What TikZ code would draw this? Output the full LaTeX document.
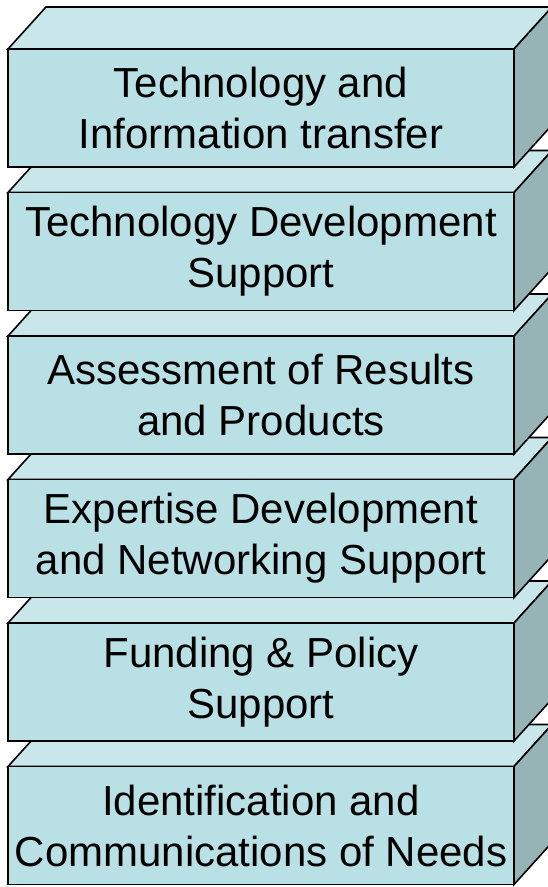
\documentclass[tikz,border=0pt]{standalone}
\usepackage{fontspec}
\setmainfont{Liberation Sans}
\usetikzlibrary{calc}
\definecolor{boxfront}{RGB}{185,224,228}
\definecolor{boxtop}{RGB}{201,231,234}
\definecolor{boxside}{RGB}{150,179,181}
\tikzset{
  face/.style={draw=black, line width=1.6pt, line join=miter},
  boxlabel/.style={align=center, font=\fontsize{42}{51}\selectfont, inner sep=0pt}
}
\begin{document}
\begin{tikzpicture}[x=1pt,y=-1pt]
\useasboundingbox (0,0) rectangle (548,887);
\clip (0,0) rectangle (548,887);

\pgfmathsetmacro{\bdx}{38};
\pgfmathsetmacro{\bdy}{42};
\pgfmathsetmacro{\bw}{506};
\pgfmathsetmacro{\bh}{118};

% stack drawn from the bottom box up
\foreach \i/\txt in {5/{Identification and\\Communications of Needs},
                     4/{Funding \& Policy\\Support},
                     3/{Expertise Development\\and Networking Support},
                     2/{Assessment of Results\\and Products},
                     1/{Technology Development\\Support},
                     0/{Technology and\\Information transfer}}{
  \pgfmathsetmacro{\ytop}{49+143.5*\i};
  \coordinate (fl) at (8,\ytop);
  \coordinate (fr) at ({8+\bw},\ytop);
  \coordinate (br) at ({8+\bw},{\ytop+\bh});
  \coordinate (bl) at (8,{\ytop+\bh});
  \filldraw[face, fill=boxtop] (fl) -- (fr) -- ++(\bdx,-\bdy) -- ++(-\bw,0) -- cycle;
  \filldraw[face, fill=boxside] (fr) -- ++(\bdx,-\bdy) -- ++(0,\bh) -- (br) -- cycle;
  \filldraw[face, fill=boxfront] (fl) rectangle (br);
  \node[boxlabel] (lbl\i) at ($(fl)!0.5!(br)$) {\txt};
}

\end{tikzpicture}
\end{document}
